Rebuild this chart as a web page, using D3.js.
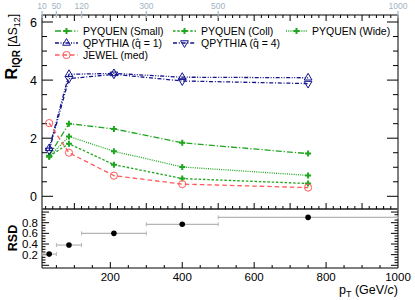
<!DOCTYPE html>
<html>
<head>
<meta charset="utf-8">
<script src="https://cdn.jsdelivr.net/npm/d3@7"></script>
<style>
  body { margin: 0; background: #fff; }
  svg { display: block; font-family: "Liberation Sans", Arial, sans-serif; }
</style>
</head>
<body>
<div id="chart"></div>
<script>
// pT bin centres and edges
var ptCenters = [30, 85, 210, 400, 750];
var binLo = [10, 50, 120, 300, 500];
var binHi = [50, 120, 300, 500, 1000];
var binEdges = [10, 50, 120, 300, 500, 1000];

// R_IQR values per model
var pyqSmall = [1.40, 2.50, 2.32, 1.84, 1.47];
var pyqColl = [1.38, 1.81, 1.09, 0.61, 0.44];
var pyqWide = [1.36, 2.06, 1.55, 1.01, 0.72];
var qpy1 = [1.65, 4.20, 4.23, 4.10, 4.08];
var qpy4 = [1.58, 4.05, 4.20, 3.97, 3.88];
var jewel = [2.52, 1.50, 0.71, 0.42, 0.30];

// relative standard deviation
var rsd = [0.21, 0.38, 0.60, 0.77, 0.90];

var W = 415, H = 300;
var green = "#1fa51f", blue = "#14148c", red = "#ff5a5a";

var series = [
  { name: "PYQUEN (Small)", vals: pyqSmall, color: green, dash: "6,2,1.2,2", mark: "cross" },
  { name: "PYQUEN (Coll)", vals: pyqColl, color: green, dash: "2.5,1.8", mark: "cross" },
  { name: "PYQUEN (Wide)", vals: pyqWide, color: green, dash: "1,1.2", mark: "cross" },
  { name: "QPYTHIA (q\u0302 = 1)", vals: qpy1, color: blue, dash: "4,1.5,1,1.5,1,1.5", mark: "up" },
  { name: "QPYTHIA (q\u0302 = 4)", vals: qpy4, color: blue, dash: "4,1.8,1,1.8", mark: "down" },
  { name: "JEWEL (med)", vals: jewel, color: red, dash: "4.5,3", mark: "circle" }
];

var svg = d3.select("#chart").append("svg").attr("width", W).attr("height", H);

var L = 42, R = 398, T = 15, M = 209, B = 268;
var x = d3.scaleLinear().domain([10, 1000]).range([L, R]);
var y = d3.scaleLinear().domain([0, 6]).range([196.3, 22]);
var y2 = d3.scaleLinear().domain([0, 0.8]).range([265.3, 222.7]);

function ticks(lo, hi, step) {
  var out = [];
  for (var v = lo; v <= hi + 1e-9; v += step) out.push(+v.toFixed(4));
  return out;
}

var ax = svg.append("g").attr("stroke", "#000").attr("stroke-width", 1);

// frames
ax.append("line").attr("x1", L).attr("x2", L).attr("y1", T).attr("y2", B);
ax.append("line").attr("x1", R).attr("x2", R).attr("y1", T).attr("y2", B);
ax.append("line").attr("x1", L).attr("x2", R).attr("y1", T).attr("y2", T);
ax.append("line").attr("x1", L).attr("x2", R).attr("y1", M).attr("y2", M)
  .attr("stroke", "#555").attr("stroke-width", 2);
ax.append("line").attr("x1", L).attr("x2", R).attr("y1", B).attr("y2", B);

// top panel y ticks (left + right)
ticks(-0.5, 6.0, 0.5).forEach(function(v) {
  var yy = y(v);
  if (yy > M - 1 || yy < T + 1) return;
  var len = (Math.abs(v % 2) < 1e-6) ? 11 : 5;
  ax.append("line").attr("x1", L).attr("x2", L + len).attr("y1", yy).attr("y2", yy);
  ax.append("line").attr("x1", R).attr("x2", R - len).attr("y1", yy).attr("y2", yy);
});
[0, 2, 4, 6].forEach(function(v) {
  svg.append("text").attr("x", 37).attr("y", y(v) + 4.5).attr("text-anchor", "end")
    .attr("font-size", 12.5).text(v);
});

// x ticks on top panel (bottom edge up, top edge down)
ticks(20, 1000, 20).forEach(function(v) {
  var xx = x(v);
  if (xx >= R - 0.5) return;
  var len = (v % 100 === 0) ? 6 : 3;
  ax.append("line").attr("x1", xx).attr("x2", xx).attr("y1", M).attr("y2", M - len);
  ax.append("line").attr("x1", xx).attr("x2", xx).attr("y1", T).attr("y2", T + len);
});

// top axis bin edges
var topAx = svg.append("g");
binEdges.forEach(function(v) {
  topAx.append("line").attr("x1", x(v)).attr("x2", x(v)).attr("y1", 11).attr("y2", 18)
    .attr("stroke", "#a8bccb").attr("stroke-width", 1.3);
  topAx.append("text").attr("x", x(v)).attr("y", 9).attr("text-anchor", "middle")
    .attr("font-size", 8.5).attr("fill", "#9fb3c3").text(v);
});

// bottom panel y ticks
ticks(0, 1.05, 0.05).forEach(function(v) {
  var yy = y2(v);
  if (yy < M + 1 || yy > B - 1) return;
  var len = (Math.round(v * 100) % 20 === 0) ? 7 : 3.5;
  ax.append("line").attr("x1", L).attr("x2", L + len).attr("y1", yy).attr("y2", yy);
  ax.append("line").attr("x1", R).attr("x2", R - len).attr("y1", yy).attr("y2", yy);
});
[0.2, 0.4, 0.6, 0.8].forEach(function(v) {
  svg.append("text").attr("x", 38).attr("y", y2(v) + 4).attr("text-anchor", "end")
    .attr("font-size", 11.5).text(v);
});

// bottom panel x ticks
ticks(50, 1000, 50).forEach(function(v) {
  var xx = x(v);
  if (xx >= R - 0.5) return;
  var len = (v % 200 === 0) ? 6 : 3;
  ax.append("line").attr("x1", xx).attr("x2", xx).attr("y1", B).attr("y2", B - len);
});
[200, 400, 600, 800, 1000].forEach(function(v) {
  svg.append("text").attr("x", x(v)).attr("y", 280.5).attr("text-anchor", "middle")
    .attr("font-size", 11.5).text(v);
});

// axis titles
var xt = svg.append("text").attr("x", R).attr("y", 294).attr("text-anchor", "end")
  .attr("font-size", 12.5);
xt.append("tspan").text("p");
xt.append("tspan").attr("font-size", 9).attr("dy", 3).text("T");
xt.append("tspan").attr("dy", -3).text(" (GeV/");
xt.append("tspan").attr("font-style", "italic").text("c");
xt.append("tspan").text(")");

var yt = svg.append("text").attr("transform", "translate(17,14) rotate(-90)")
  .attr("text-anchor", "end").attr("font-size", 12);
yt.append("tspan").attr("font-weight", "bold").attr("font-size", 16).text("R");
yt.append("tspan").attr("font-size", 10).attr("dy", 3).attr("font-weight", "bold").text("IQR");
yt.append("tspan").attr("dy", -3).text(" [\u0394S");
yt.append("tspan").attr("font-size", 9).attr("dy", 3).text("12");
yt.append("tspan").attr("dy", -3).text("]");

svg.append("text").attr("transform", "translate(17,238) rotate(-90)")
  .attr("text-anchor", "middle").attr("font-size", 12.5).attr("font-weight", "bold").text("RSD");

// markers
function drawMark(g, s, cx, cy) {
  if (s.mark === "cross") {
    g.append("path").attr("transform", "translate(" + cx + "," + cy + ")")
      .attr("d", d3.symbol().type(d3.symbolCross).size(20)())
      .attr("fill", s.color);
  } else if (s.mark === "circle") {
    g.append("circle").attr("cx", cx).attr("cy", cy).attr("r", 3.6)
      .attr("fill", "none").attr("stroke", s.color).attr("stroke-width", 1);
  } else {
    var rot = s.mark === "down" ? 180 : 0;
    g.append("path").attr("transform", "translate(" + cx + "," + cy + ") rotate(" + rot + ")")
      .attr("d", d3.symbol().type(d3.symbolTriangle).size(26)())
      .attr("fill", "none").attr("stroke", s.color).attr("stroke-width", 1);
  }
}

var line = d3.line().x(function(d, i) { return x(ptCenters[i]); }).y(function(d) { return y(d); });
var plot = svg.append("g");
series.forEach(function(s) {
  plot.append("path").attr("d", line(s.vals)).attr("fill", "none")
    .attr("stroke", s.color).attr("stroke-width", 1.3).attr("stroke-dasharray", s.dash);
});
series.forEach(function(s) {
  s.vals.forEach(function(v, i) { drawMark(plot, s, x(ptCenters[i]), y(v)); });
});

// legend
var legPos = [
  [55, 31], [173, 31], [286, 31],
  [55, 43], [173, 43],
  [55, 55]
];
var leg = svg.append("g");
series.forEach(function(s, k) {
  var p = legPos[k];
  var w = k === 2 ? 21 : 23;
  leg.append("line").attr("x1", p[0]).attr("x2", p[0] + w).attr("y1", p[1]).attr("y2", p[1])
    .attr("stroke", s.color).attr("stroke-width", 1.3).attr("stroke-dasharray", s.dash);
  drawMark(leg, s, p[0] + w / 2, p[1]);
  leg.append("text").attr("x", p[0] + w + 5).attr("y", p[1] + 3.8)
    .attr("font-size", 10.5).text(s.name);
});

// RSD panel
var rg = svg.append("g");
rsd.forEach(function(v, i) {
  var yy = y2(v);
  rg.append("line").attr("x1", x(binLo[i])).attr("x2", x(binHi[i])).attr("y1", yy).attr("y2", yy)
    .attr("stroke", "#b4b4b4").attr("stroke-width", 1.2);
  [binLo[i], binHi[i]].forEach(function(e) {
    rg.append("line").attr("x1", x(e)).attr("x2", x(e)).attr("y1", yy - 2).attr("y2", yy + 2)
      .attr("stroke", "#b4b4b4").attr("stroke-width", 1);
  });
  rg.append("circle").attr("cx", x(ptCenters[i])).attr("cy", yy).attr("r", 2.8).attr("fill", "#000");
});
</script>
</body>
</html>
